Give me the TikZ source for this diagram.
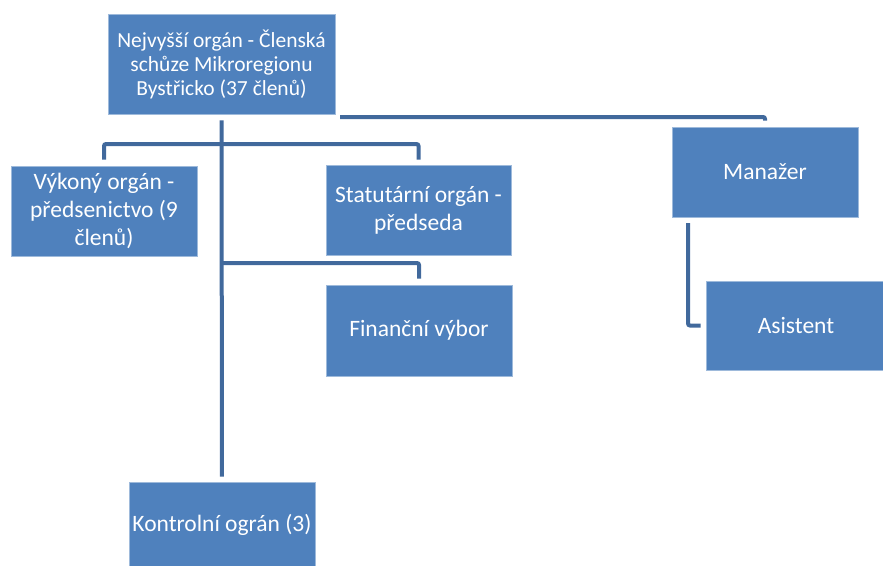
\documentclass[tikz,border=0pt]{standalone}
\usepackage{fontspec}
\setmainfont{Carlito}
\definecolor{boxblue}{HTML}{4F81BD}
\definecolor{lineblue}{HTML}{41699C}
\begin{document}
\begin{tikzpicture}[x=1pt,y=-1pt,
  box/.style={rectangle, fill=boxblue, draw=boxblue!55!white, line width=0.8pt,
    text=white, align=center, font=\fontsize{23.5}{28}\selectfont, inner sep=0pt},
  conn/.style={draw=lineblue, line width=4pt, rounded corners=2pt}]
\useasboundingbox (0,0) rectangle (883,565);
\node[box, minimum width=227pt, minimum height=100pt, font=\fontsize{21.5}{24}\selectfont] (top) at (221.5,64)
  {Nejvyšší orgán - Členská\\schůze Mikroregionu\\Bystřicko (37 členů)};
\node[box, minimum width=186pt, minimum height=90pt] (vykony) at (104,211)
  {Výkoný orgán -\\předsenictvo (9\\členů)};
\node[box, minimum width=185pt, minimum height=90pt] (statut) at (418.5,210)
  {Statutární orgán -\\předseda};
\node[box, minimum width=186pt, minimum height=91pt] (financ) at (419,330.5)
  {Finanční výbor};
\node[box, minimum width=186pt, minimum height=86pt] (kontrol) at (222,525)
  {Kontrolní ográn (3)};
\node[box, minimum width=186pt, minimum height=90pt] (manazer) at (765,172)
  {Manažer};
\node[box, minimum width=180pt, minimum height=89pt] (asist) at (796,325.5)
  {Asistent};
\coordinate (j1) at (222,144);
\coordinate (j2) at (222,263);
\coordinate (m0) at (340,117);
\coordinate (a0) at (688,217);
\draw[conn, shorten <=6pt, shorten >=5pt] (top.south) -- (kontrol.north);
\draw[conn, shorten <=6pt, shorten >=5pt] (vykony.north) |- (j1) -| (statut.north);
\draw[conn, shorten >=6pt] (j2) -| (financ.north);
\draw[conn, shorten >=6pt] (m0) -| (manazer.north);
\draw[conn, shorten <=6pt, shorten >=5pt] (a0) |- (asist.west);
\end{tikzpicture}
\end{document}
